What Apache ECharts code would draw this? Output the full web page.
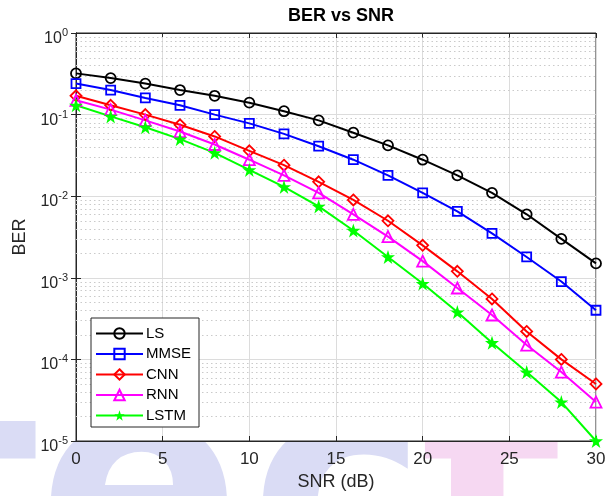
<!DOCTYPE html>
<html>
<head>
<meta charset="utf-8">
<script src="https://cdn.jsdelivr.net/npm/echarts@6/dist/echarts.min.js"></script>
<style>
  html, body { margin: 0; padding: 0; background: #fff; }
  #chart { width: 611px; height: 496px; }
</style>
</head>
<body>
<div id="chart"></div>
<script>
// SNR points (dB)
var snr = [0, 2, 4, 6, 8, 10, 12, 14, 16, 18, 20, 22, 24, 26, 28, 30];

// BER per detector
var berLS   = [0.32, 0.28, 0.24, 0.20, 0.17, 0.14, 0.11, 0.085, 0.06, 0.042, 0.028, 0.018, 0.011, 0.006, 0.003, 0.0015];
var berMMSE = [0.24, 0.20, 0.16, 0.13, 0.10, 0.078, 0.058, 0.041, 0.028, 0.018, 0.011, 0.0065, 0.0035, 0.0018, 0.0009, 0.0004];
var berCNN  = [0.17, 0.13, 0.10, 0.075, 0.054, 0.036, 0.024, 0.015, 0.009, 0.005, 0.0025, 0.0012, 0.00055, 0.00022, 0.0001, 0.00005];
var berRNN  = [0.15, 0.115, 0.085, 0.062, 0.043, 0.028, 0.018, 0.011, 0.006, 0.0032, 0.0016, 0.00075, 0.00035, 0.00015, 0.00007, 0.00003];
var berLSTM = [0.13, 0.095, 0.07, 0.05, 0.034, 0.021, 0.013, 0.0075, 0.0038, 0.0018, 0.00085, 0.00038, 0.00016, 0.00007, 0.00003, 0.00001];

var xTicks = [0, 5, 10, 15, 20, 25, 30];
var yDecades = [-5, -4, -3, -2, -1, 0];

var chart = echarts.init(document.getElementById('chart'));

function pairs(ys) {
  return snr.map(function (x, i) { return [x, ys[i]]; });
}

var starPath = 'path://M50,0 L61.8,35.4 L99,35.4 L69,57.3 L80.3,92.7 L50,70.8 L19.7,92.7 L31,57.3 L1,35.4 L38.2,35.4 Z';
var txt = '#262626';

function mkSeries(name, data, color, symbol, size, filled) {
  return {
    name: name,
    type: 'line',
    data: pairs(data),
    symbol: symbol,
    symbolSize: size,
    showAllSymbol: true,
    z: 5,
    lineStyle: { color: color, width: 2 },
    itemStyle: { color: filled ? color : 'rgba(255,255,255,0)', borderColor: color, borderWidth: filled ? 0 : 1.8 }
  };
}

// values of the dotted minor grid on the log axis (2..9 x 10^k)
var minorVals = [];
yDecades.slice(0, -1).forEach(function (k) {
  for (var m = 2; m <= 9; m++) minorVals.push(m * Math.pow(10, k));
});

var series = [
  {
    type: 'custom',
    silent: true,
    z: 3,
    data: minorVals.map(function (v) { return [v]; }),
    encode: { y: 0 },
    renderItem: function (params, api) {
      var v = api.value(0);
      var p1 = api.coord([xTicks[0], v]);
      var p2 = api.coord([xTicks[xTicks.length - 1], v]);
      var y = Math.round(p1[1]) + 0.5;
      return {
        type: 'line',
        shape: { x1: p1[0], y1: y, x2: p2[0], y2: y },
        style: { stroke: '#cacaca', lineWidth: 1, lineDash: [1.5, 3] }
      };
    }
  },
  mkSeries('LS', berLS, '#000000', 'circle', 10, false),
  mkSeries('MMSE', berMMSE, '#0000ff', 'rect', 9, false),
  mkSeries('CNN', berCNN, '#ff0000', 'diamond', 11, false),
  mkSeries('RNN', berRNN, '#ff00ff', 'triangle', 11, false),
  mkSeries('LSTM', berLSTM, '#00ff00', starPath, 14, true)
];

var wmBlue = '#dadcf5', wmPink = '#f6d8f2';
var wmFont = 'bold 300px "DejaVu Sans"';
var wmTop = 357;

var option = {
  animation: false,
  backgroundColor: '#fff',
  textStyle: { fontFamily: '"Liberation Sans", Arial, sans-serif', color: txt },
  title: {
    text: 'BER vs SNR',
    left: 336, top: 2, textAlign: 'center',
    textStyle: { fontSize: 18, fontWeight: 'bold', color: '#000' }
  },
  graphic: [
    { type: 'text', z: -10, left: -101, top: wmTop, style: { text: 't', font: wmFont, fill: wmBlue } },
    { type: 'text', z: -10, left: 38, top: wmTop, style: { text: 'e', font: wmFont, fill: wmBlue } },
    { type: 'text', z: -10, left: 250, top: wmTop, style: { text: 'c', font: wmFont, fill: wmBlue } },
    { type: 'text', z: -10, left: 421, top: wmTop, style: { text: 't', font: wmFont, fill: wmPink } }
  ],
  grid: {
    left: 76, right: 15, top: 33, bottom: 55,
    show: true, backgroundColor: '#fff', borderColor: '#262626', borderWidth: 1
  },
  legend: {
    orient: 'vertical',
    left: 91, top: 318,
    padding: [8, 8, 4, 4],
    itemGap: 5.5,
    itemWidth: 47,
    itemHeight: 13,
    backgroundColor: '#fff',
    borderColor: '#262626',
    borderWidth: 1,
    textStyle: { fontSize: 15, color: '#000', padding: [0, 0, 0, -2] },
    data: ['LS', 'MMSE', 'CNN', 'RNN', 'LSTM']
  },
  xAxis: [{
    type: 'value',
    min: 0, max: 30, interval: 5,
    name: 'SNR (dB)',
    nameLocation: 'middle',
    nameGap: 26,
    nameTextStyle: { fontSize: 18, color: txt },
    axisLine: { lineStyle: { color: '#262626' } },
    axisTick: { inside: true, length: 5, lineStyle: { color: '#262626' } },
    axisLabel: { fontSize: 17, color: txt, margin: 10 },
    splitLine: { show: true, lineStyle: { color: '#dcdcdc' } }
  }, {
    type: 'value', position: 'top',
    min: 0, max: 30, interval: 5,
    axisLine: { lineStyle: { color: '#262626' } },
    axisTick: { inside: true, length: 5, lineStyle: { color: '#262626' } },
    axisLabel: { show: false },
    splitLine: { show: false }
  }],
  yAxis: [{
    type: 'log',
    logBase: 10,
    min: 1e-5, max: 1,
    name: 'BER',
    nameLocation: 'middle',
    nameGap: 44,
    nameTextStyle: { fontSize: 18, color: txt },
    axisLine: { lineStyle: { color: '#262626' } },
    axisTick: { inside: true, length: 5, lineStyle: { color: '#262626' } },
    splitLine: { show: true, lineStyle: { color: '#dcdcdc' } },
    axisLabel: {
      margin: 8,
      formatter: function (v) {
        var e = Math.round(Math.log10(v));
        return '{b|10}{s|' + e + '}';
      },
      rich: {
        b: { fontSize: 16, color: txt, verticalAlign: 'bottom', padding: [11, 0, 0, 0] },
        s: { fontSize: 11, color: txt, verticalAlign: 'bottom', padding: [0, 0, 8, 0] }
      }
    }
  }, {
    type: 'log', position: 'right',
    min: 1e-5, max: 1,
    axisLine: { lineStyle: { color: '#262626' } },
    axisTick: { inside: true, length: 5, lineStyle: { color: '#262626' } },
    axisLabel: { show: false },
    splitLine: { show: false }
  }],
  series: series
};

chart.setOption(option);
</script>
</body>
</html>
